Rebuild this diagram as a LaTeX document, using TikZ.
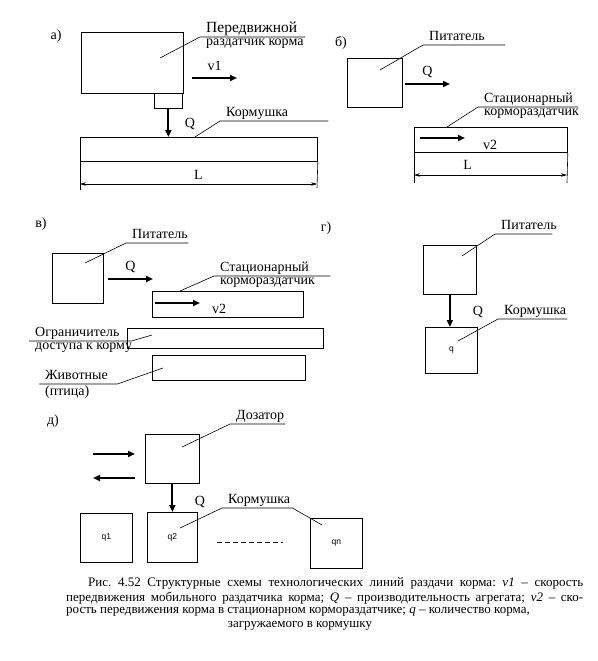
\documentclass[tikz,border=0pt]{standalone}
\usepackage{fontspec}
\setmainfont{Liberation Serif}
\newfontfamily\qfont{Liberation Sans}
\usetikzlibrary{positioning,arrows.meta}
\frenchspacing

\begin{document}
\begin{tikzpicture}[x=1pt, y=-1pt, font=\fontsize{14}{16}\selectfont,
  blk/.style={draw, line width=0.8pt, inner sep=0pt, anchor=north west},
  lbl/.style={anchor=south west, inner xsep=6pt, inner ysep=1pt, text height=10pt, text depth=3pt, align=left},
  txt/.style={inner sep=0pt},
  lead/.style={line width=0.6pt},
  flow/.style={-{Triangle[length=7pt, width=6pt]}, line width=2pt},
  dim/.style={{Stealth[length=6pt, width=3.5pt]}-{Stealth[length=6pt, width=3.5pt]}, line width=0.6pt},
  qlab/.style={font=\qfont\fontsize{8.5}{10}\selectfont},
  captxt/.style={inner sep=0pt, anchor=west, font=\fontsize{13}{15}\selectfont}]
\useasboundingbox (0,0) rectangle (597,661);
\fill[white] (0,0) rectangle (597,661);
\node[txt] (tagA) at (56,36) {а)};
\node[blk, minimum width=102pt, minimum height=61pt] (mob) at (81,32) {};
\node[blk, minimum width=28pt, minimum height=15pt] (disp) at (154,93) {};
\node[blk, minimum width=237pt, minimum height=24pt] (trA) at (80,137) {};
\draw[flow] (disp) -- (disp |- trA.north);
\node[txt] (qA) at (190,124) {Q};
\node[lbl, text width=93pt, font=\fontsize{15.5}{17}\selectfont] (mobL) at (200,37) {Передвижной};
\node[txt, below right=2pt and 6pt of mobL.south west] (mobL2) {раздатчик корма};
\coordinate (mobP) at (160,58);
\draw[lead] (mobP) -- (mobL.south west) -- (mobL.south east);
\coordinate (v1s) at (192,78);
\coordinate (v1e) at (237,78);
\draw[flow] (v1s) -- node[above=3pt] (v1L) {v1} (v1e);
\node[lbl, text width=96pt] (kAL) at (220,121) {Кормушка};
\coordinate (kAP) at (195,137);
\draw[lead] (kAP) -- (kAL.south west) -- (kAL.south east);
\coordinate (eA1) at (80,190);
\coordinate (eA2) at (317,188);
\draw[lead] (trA.south west) -- (eA1);
\draw[lead] (trA.south east) -- (eA2);
\coordinate (dA1) at (80,184);
\coordinate (dA2) at (317,184);
\draw[dim] (dA1) -- node[above=1pt] (LA) {L} (dA2);

\node[txt] (tagB) at (341,43) {б)};
\node[blk, minimum width=55pt, minimum height=49pt] (feedB) at (347,58) {};
\node[lbl, text width=70pt] (feedBL) at (423,45) {Питатель};
\coordinate (feedBP) at (380,70);
\draw[lead] (feedBP) -- (feedBL.south west) -- (feedBL.south east);
\coordinate (qB1) at (405,84);
\coordinate (qB2) at (450,84);
\draw[flow] (qB1) -- node[above=2pt] (qBL) {Q} (qB2);
\node[blk, minimum width=153pt, minimum height=25pt] (trB) at (414,127) {};
\node[lbl, text width=88pt] (trBL) at (478,107) {Стационарный};
\node[txt, below right=2pt and 6pt of trBL.south west] (trBL2) {кормораздатчик};
\coordinate (trBP) at (447,127);
\draw[lead] (trBP) -- (trBL.south west) -- (trBL.south east);
\coordinate (v2B1) at (420,138);
\coordinate (v2B2) at (465,138);
\draw[flow] (v2B1) -- (v2B2);
\node[txt] (v2B) at (490,145) {v2};
\coordinate (eB1) at (414,183);
\coordinate (eB2) at (567,183);
\draw[lead] (trB.south west) -- (eB1);
\draw[lead] (trB.south east) -- (eB2);
\coordinate (dB1) at (414,175);
\coordinate (dB2) at (567,175);
\draw[dim] (dB1) -- node[pos=0.35, above=2pt] (LB) {L} (dB2);

\node[txt] (tagC) at (41,224) {в)};
\node[blk, minimum width=51pt, minimum height=50pt] (feedC) at (52,253) {};
\node[lbl, text width=50pt] (feedCL) at (126,243) {Питатель};
\coordinate (feedCP) at (85,263);
\draw[lead] (feedCP) -- (feedCL.south west) -- (feedCL.south east);
\coordinate (qC1) at (108,279);
\coordinate (qC2) at (153,279);
\draw[flow] (qC1) -- node[above=2pt] (qCL) {Q} (qC2);
\node[blk, minimum width=151pt, minimum height=26pt] (trC) at (152,291) {};
\node[lbl, text width=104pt] (trCL) at (214,276) {Стационарный};
\node[txt, below right=2pt and 6pt of trCL.south west] (trCL2) {кормораздатчик};
\coordinate (trCP) at (180,291);
\draw[lead] (trCP) -- (trCL.south west) -- (trCL.south east);
\coordinate (v2C1) at (155,303);
\coordinate (v2C2) at (200,303);
\draw[flow] (v2C1) -- (v2C2);
\node[txt] (v2C) at (219,309) {v2};
\node[blk, minimum width=196pt, minimum height=20pt] (limC) at (127,328) {};
\node[lbl, text width=90pt] (limCL) at (29,341) {Ограничитель};
\node[txt, below right=2pt and 6pt of limCL.south west] (limCL2) {доступа к корму};
\coordinate (limCP) at (152,335);
\draw[lead] (limCP) -- (limCL.south east) -- (limCL.south west);
\node[blk, minimum width=153pt, minimum height=25pt] (aniC) at (152,355) {};
\node[lbl, text width=66pt] (aniCL) at (39,384) {Животные};
\node[txt, below right=2pt and 6pt of aniCL.south west] (aniCL2) {(птица)};
\coordinate (aniCP) at (163,368);
\draw[lead] (aniCP) -- (aniCL.south east) -- (aniCL.south west);

\node[txt] (tagD) at (326,228) {г)};
\node[blk, minimum width=53pt, minimum height=49pt] (feedD) at (423,245) {};
\node[lbl, text width=45pt] (feedDL) at (495,234) {Питатель};
\coordinate (feedDP) at (462,256);
\draw[lead] (feedDP) -- (feedDL.south west) -- (feedDL.south east);
\node[blk, minimum width=52pt, minimum height=46pt, qlab] (kD) at (425,327) {q};
\draw[flow] (feedD) -- (feedD |- kD.north);
\node[txt] (qD) at (478,312) {Q};
\node[lbl, text width=57pt] (kDL) at (498,319) {Кормушка};
\coordinate (kDP) at (458,341);
\draw[lead] (kDP) -- (kDL.south west) -- (kDL.south east);

\node[txt] (tagE) at (53,421) {д)};
\node[blk, minimum width=54pt, minimum height=49pt] (dos) at (145,434) {};
\node[lbl, text width=43pt] (dosL) at (230,424) {Дозатор};
\coordinate (dosP) at (182,447);
\draw[lead] (dosP) -- (dosL.south west) -- (dosL.south east);
\coordinate (mvR1) at (93,454);
\coordinate (mvR2) at (135,454);
\coordinate (mvL1) at (135,478);
\coordinate (mvL2) at (93,478);
\draw[flow] (mvR1) -- (mvR2);
\draw[flow] (mvL1) -- (mvL2);
\node[blk, minimum width=52pt, minimum height=49pt, qlab] (b1) at (80,513) {q1};
\node[blk, minimum width=50pt, minimum height=50pt, qlab] (b2) at (147,512) {q2};
\node[blk, minimum width=52pt, minimum height=50pt, qlab] (bn) at (310,518) {qn};
\draw[flow] (dos) -- (dos |- b2.north);
\node[txt] (qE) at (200,502) {Q};
\node[lbl, text width=58pt] (kEL) at (222,508) {Кормушка};
\coordinate (kEP1) at (180,528);
\coordinate (kEP2) at (322,525);
\draw[lead] (kEP1) -- (kEL.south west) -- (kEL.south east) -- (kEP2);
\coordinate (gap1) at (217,542);
\coordinate (gap2) at (283,542);
\draw[dashed, line width=0.8pt, dash pattern=on 5pt off 3pt] (gap1) -- (gap2);

\node[captxt] (cap1) at (88,583) {\makebox[495pt][s]{Рис. 4.52 Структурные схемы технологических линий раздачи корма: \textit{v1} – скорость}};
\node[captxt] (cap2) at (66,598) {\makebox[517pt][s]{передвижения мобильного раздатчика корма; \textit{Q} – производительность агрегата; \textit{v2} – ско-}};
\node[captxt] (cap3) at (66,612) {рость передвижения корма в стационарном кормораздатчике; \textit{q} – количество корма,};
\node[captxt, anchor=center] (cap4) at (300,626) {загружаемого в кормушку};
\end{tikzpicture}
\end{document}
